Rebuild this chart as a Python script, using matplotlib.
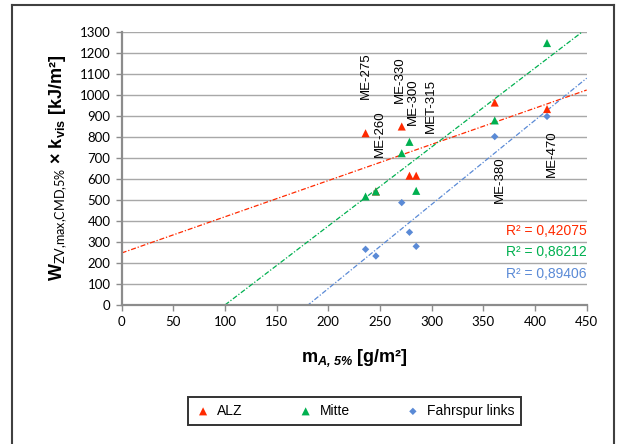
import numpy as np
import matplotlib
matplotlib.use("Agg")
import matplotlib.pyplot as plt
from matplotlib.lines import Line2D

# Mix sample ids and their areal mass m_A,5% [g/m²]
sample_names = ["ME-275", "ME-260", "ME-330", "ME-300", "MET-315", "ME-380", "ME-470"]
m_a = [236, 246, 271, 278.5, 285, 361, 411.6]

# W_ZV,max,CMD,5% x k_vis [kJ/m²] per measuring position
alz = [817, 540, 849, 615, 615, 963, 932]
mitte = [516, 540, 722, 776, 543, 878, 1246]
fahrspur_links = [265, 233, 487, 346, 279, 801, 897]

r2_labels = ["R² = 0,42075", "R² = 0,86212", "R² = 0,89406"]

x_ticks = list(range(0, 451, 50))
y_ticks = list(range(0, 1301, 100))

plt.rcParams["mathtext.fontset"] = "custom"
plt.rcParams["mathtext.rm"] = "Liberation Sans"
plt.rcParams["mathtext.bf"] = "Liberation Sans:bold"
plt.rcParams["mathtext.sf"] = "Lato"
plt.rcParams["mathtext.it"] = "Liberation Sans:italic"
plt.rcParams["mathtext.bfit"] = "Liberation Sans:italic:bold"

W, H = 617, 444
fig = plt.figure(figsize=(W / 100, H / 100), dpi=100)
ax = fig.add_axes([121.7 / W, 1 - 305 / H, (586.7 - 121.7) / W, (305 - 31.7) / H])

RED = "#FF2A00"
GREEN = "#00B050"
BLUE = "#5A8AD6"
GRID = "#A8A8A8"

series = [
    ("ALZ", alz, RED, "^", 34),
    ("Mitte", mitte, GREEN, "^", 34),
    ("Fahrspur links", fahrspur_links, BLUE, "D", 14),
]

xs = np.array(m_a, dtype=float)
xfit = np.linspace(0, 450, 200)
for name, vals, col, mk, sz in series:
    ys = np.array(vals, dtype=float)
    k, d = np.polyfit(xs, ys, 1)
    ax.plot(xfit, k * xfit + d, color=col, lw=0.9, ls=(0, (4, 1.5, 1, 1.5)), zorder=2)

for name, vals, col, mk, sz in series:
    ax.scatter(m_a, vals, marker=mk, s=sz, color=col, edgecolors="none", zorder=3, label=name)

ax.set_xlim(0, 450)
ax.set_ylim(0, 1300)
ax.set_xticks(x_ticks)
ax.set_yticks(y_ticks)
ax.yaxis.grid(True, color=GRID, lw=1.0)
ax.set_axisbelow(True)
for s in ["top", "right"]:
    ax.spines[s].set_visible(False)
for s in ["left", "bottom"]:
    ax.spines[s].set_color("#8C8C8C")
    ax.spines[s].set_linewidth(1.6)
ax.tick_params(axis="both", direction="out", length=4, width=1.0, color="#8C8C8C",
               labelsize=9.5, pad=4)
for lab in ax.get_xticklabels() + ax.get_yticklabels():
    lab.set_fontfamily("Lato")

# sample labels, rotated above the points
label_pos = [(236, 980), (250, 706), (269.5, 962), (282, 857), (299.5, 819), (366, 486), (416, 611)]
for name, (lx, ly) in zip(sample_names, label_pos):
    ax.text(lx, ly, name, rotation=90, ha="center", va="bottom",
            fontsize=9.5, family="Liberation Sans", color="black", zorder=4)

for txt, col, ly in zip(r2_labels, [RED, GREEN, BLUE], [354, 251, 148]):
    ax.text(450, ly, txt, ha="right", va="center", fontsize=10,
            family="Liberation Sans", color=col, zorder=4)

ax.set_ylabel(r"$\mathbf{W}_{\mathsf{ZV{,}max{,}CMD{,}5\%}}$ × $\mathbf{k}_{\mathbf{vis}}$ [kJ/m²]",
              fontsize=13, fontweight="bold", family="Liberation Sans", labelpad=8)
ax.set_xlabel(r"$\mathbf{m}_{\mathbfit{A{,}\ 5\%}}$ [g/m²]",
              fontsize=13, fontweight="bold", family="Liberation Sans", labelpad=14)

leg = fig.legend(loc="center", bbox_to_anchor=(354.5 / W, 1 - 411 / H), ncol=3,
                 prop={"family": "Liberation Sans", "size": 10}, frameon=True,
                 fancybox=False, edgecolor="black", columnspacing=3.95,
                 handletextpad=0.4, handlelength=1.2, borderpad=0.5, scatterpoints=1)
leg.get_frame().set_linewidth(1.4)

# chart area border
bc = "#404040"
fig.add_artist(Line2D([12 / W, 12 / W], [0, 1 - 5 / H], transform=fig.transFigure, color=bc, lw=1.5))
fig.add_artist(Line2D([12 / W, 614 / W], [1 - 5 / H, 1 - 5 / H], transform=fig.transFigure, color=bc, lw=1.5))
fig.add_artist(Line2D([614 / W, 614 / W], [0, 1 - 5 / H], transform=fig.transFigure, color=bc, lw=1.5))

fig.savefig("out.png", dpi=100)
